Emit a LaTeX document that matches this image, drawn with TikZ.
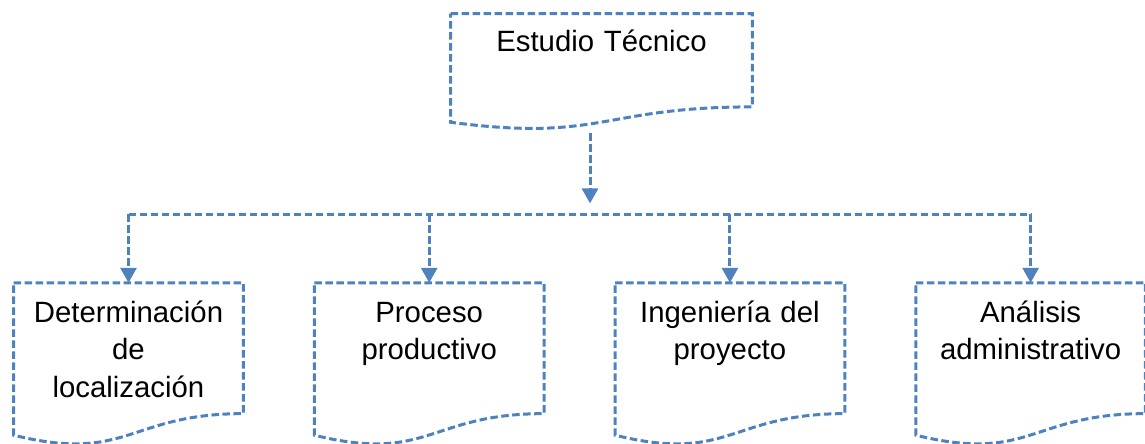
\documentclass[tikz,border=0pt]{standalone}
\usepackage{fontspec}
\setmainfont{Liberation Sans}
\usetikzlibrary{arrows.meta}
\usetikzlibrary{positioning}
\usetikzlibrary{calc}
\definecolor{docblue}{RGB}{79,129,189}

\begin{document}
\begin{tikzpicture}[
  docline/.style={draw=docblue,line width=0.06cm,dash pattern=on 0.15cm off 0.07cm},
  link/.style={docline,-{Triangle[width=0.32cm,length=0.3cm]}},
  doc/.style={inner sep=0,minimum width=4.58cm,minimum height=3.25cm},
  txt/.style={inner sep=0,align=center,text width=4.5cm,anchor=base,font=\fontsize{16.7}{21.3}\selectfont}]
  \useasboundingbox (0,0) rectangle (22.9,-8.86);

  \node[doc,minimum width=6.02cm,minimum height=2.31cm] (tecnico) at (12.03,-1.436){};
  \node[doc] (local) at (2.57,-7.287){};
  \node[doc,right=1.42cm of local] (proceso){};
  \node[doc,right=1.42cm of proceso] (ingenieria){};
  \node[doc,right=1.42cm of ingenieria] (analisis){};

  \node[txt,text width=6cm] (tecnicotxt) at ($(tecnico.north)+(0,-0.76)$) {Estudio Técnico};
  \node[txt] (localtxt) at ($(local.north)+(0,-0.79)$) {Determinación\\de\\localización};
  \node[txt] (procesotxt) at ($(proceso.north)+(0,-0.79)$) {Proceso\\productivo};
  \node[txt] (ingenieriatxt) at ($(ingenieria.north)+(0,-0.79)$) {Ingeniería del\\proyecto};
  \node[txt] (analisistxt) at ($(analisis.north)+(0,-0.79)$) {Análisis\\administrativo};

  % document outlines
  \foreach \n in {tecnico,local,proceso,ingenieria,analisis}
    \draw[docline] (\n.north west) -- (\n.north east) -- ($(\n.north east)!0.802!(\n.south east)$)
      .. controls ($(\n.north)!0.802!(\n.south)$) and ($(\n.north)!1.107!(\n.south)$) .. ($(\n.north west)!0.934!(\n.south west)$) -- cycle;

  \coordinate (hub) at ($(tecnico.south)+(-0.23,-1.47)$);
  \coordinate (bus) at (0,-4.28);
  \draw[link] ($(tecnico.south)+(-0.23,-0.07)$) -- (hub);
  \draw[docline] (local.north |- bus) -- (analisis.north |- bus);
  \foreach \n in {local,proceso,ingenieria,analisis}
    \draw[link] (\n.north |- bus) -- (\n.north);
\end{tikzpicture}
\end{document}
